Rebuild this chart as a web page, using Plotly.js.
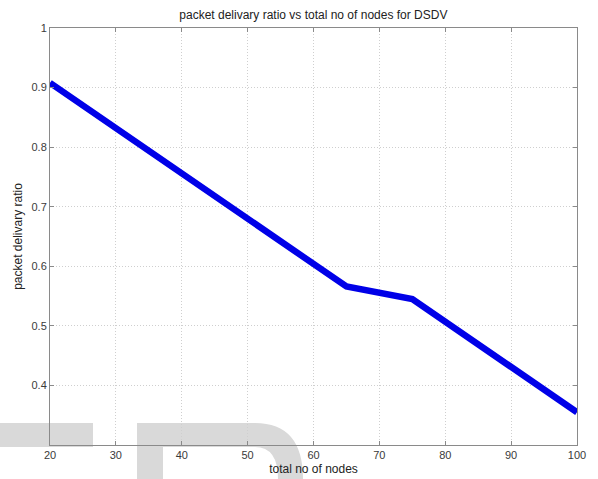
<!DOCTYPE html>
<html>
<head>
<meta charset="utf-8">
<script src="https://cdn.plot.ly/plotly-3.0.1.min.js"></script>
<style>
  html, body { margin: 0; padding: 0; background: #fff; }
  #wrap { position: relative; width: 598px; height: 479px; }
  #chart { position: absolute; left: 0; top: 0; width: 598px; height: 479px; }
  #wm { position: absolute; left: 0; top: 0; pointer-events: none; }
</style>
</head>
<body>
<div id="wrap">
  <svg id="wm" width="598" height="479" viewBox="0 0 598 479">
    <rect x="0" y="423" width="93" height="24" fill="#d9d9d9"/>
    <path d="M137 423 L255 423 Q303 423 303 479 L278 479 Q278 447 255 447 L163 447 L163 479 L137 479 Z" fill="#d9d9d9"/>
  </svg>
  <div id="chart"></div>
</div>
<script>
// Data
const nodes = [20, 65, 75, 100];
const pdr = [0.908, 0.566, 0.545, 0.355];

const xTicks = [20, 30, 40, 50, 60, 70, 80, 90, 100];
const yTicks = [0.4, 0.5, 0.6, 0.7, 0.8, 0.9, 1];

const font = "Liberation Sans, Arial, Helvetica, sans-serif";

const trace = {
  x: nodes,
  y: pdr,
  type: "scatter",
  mode: "lines",
  line: { color: "#0000e8", width: 6.5 },
  hoverinfo: "none"
};

const axisCommon = {
  showline: true,
  linecolor: "#8a8a8a",
  linewidth: 1,
  mirror: "ticks",
  ticks: "inside",
  ticklen: 4,
  tickcolor: "#8a8a8a",
  showgrid: true,
  gridcolor: "#cfcfcf",
  griddash: "1px,2px",
  gridwidth: 1,
  zeroline: false,
  tickfont: { family: font, size: 11, color: "#3a3a3a" }
};

const layout = {
  width: 598,
  height: 479,
  margin: { l: 50, r: 21, t: 28, b: 34 },
  paper_bgcolor: "rgba(0,0,0,0)",
  plot_bgcolor: "rgba(0,0,0,0)",
  showlegend: false,
  title: {
    text: "packet delivary ratio vs total no of nodes for DSDV",
    font: { family: font, size: 12, color: "#222" },
    x: 0.524, xanchor: "center",
    y: 0.969, yanchor: "middle"
  },
  xaxis: Object.assign({}, axisCommon, {
    range: [20, 100],
    tickvals: xTicks,
    ticktext: xTicks.map(String),
    title: { text: "total no of nodes", font: { family: font, size: 12, color: "#222" }, standoff: 4 }
  }),
  yaxis: Object.assign({}, axisCommon, {
    range: [0.3, 1],
    tickvals: yTicks,
    ticktext: yTicks.map(v => v === 1 ? "1" : v.toFixed(1)),
    title: { text: "packet delivary ratio", font: { family: font, size: 12, color: "#222" }, standoff: 6 }
  })
};

Plotly.newPlot("chart", [trace], layout, { staticPlot: true, displayModeBar: false });
</script>
</body>
</html>
